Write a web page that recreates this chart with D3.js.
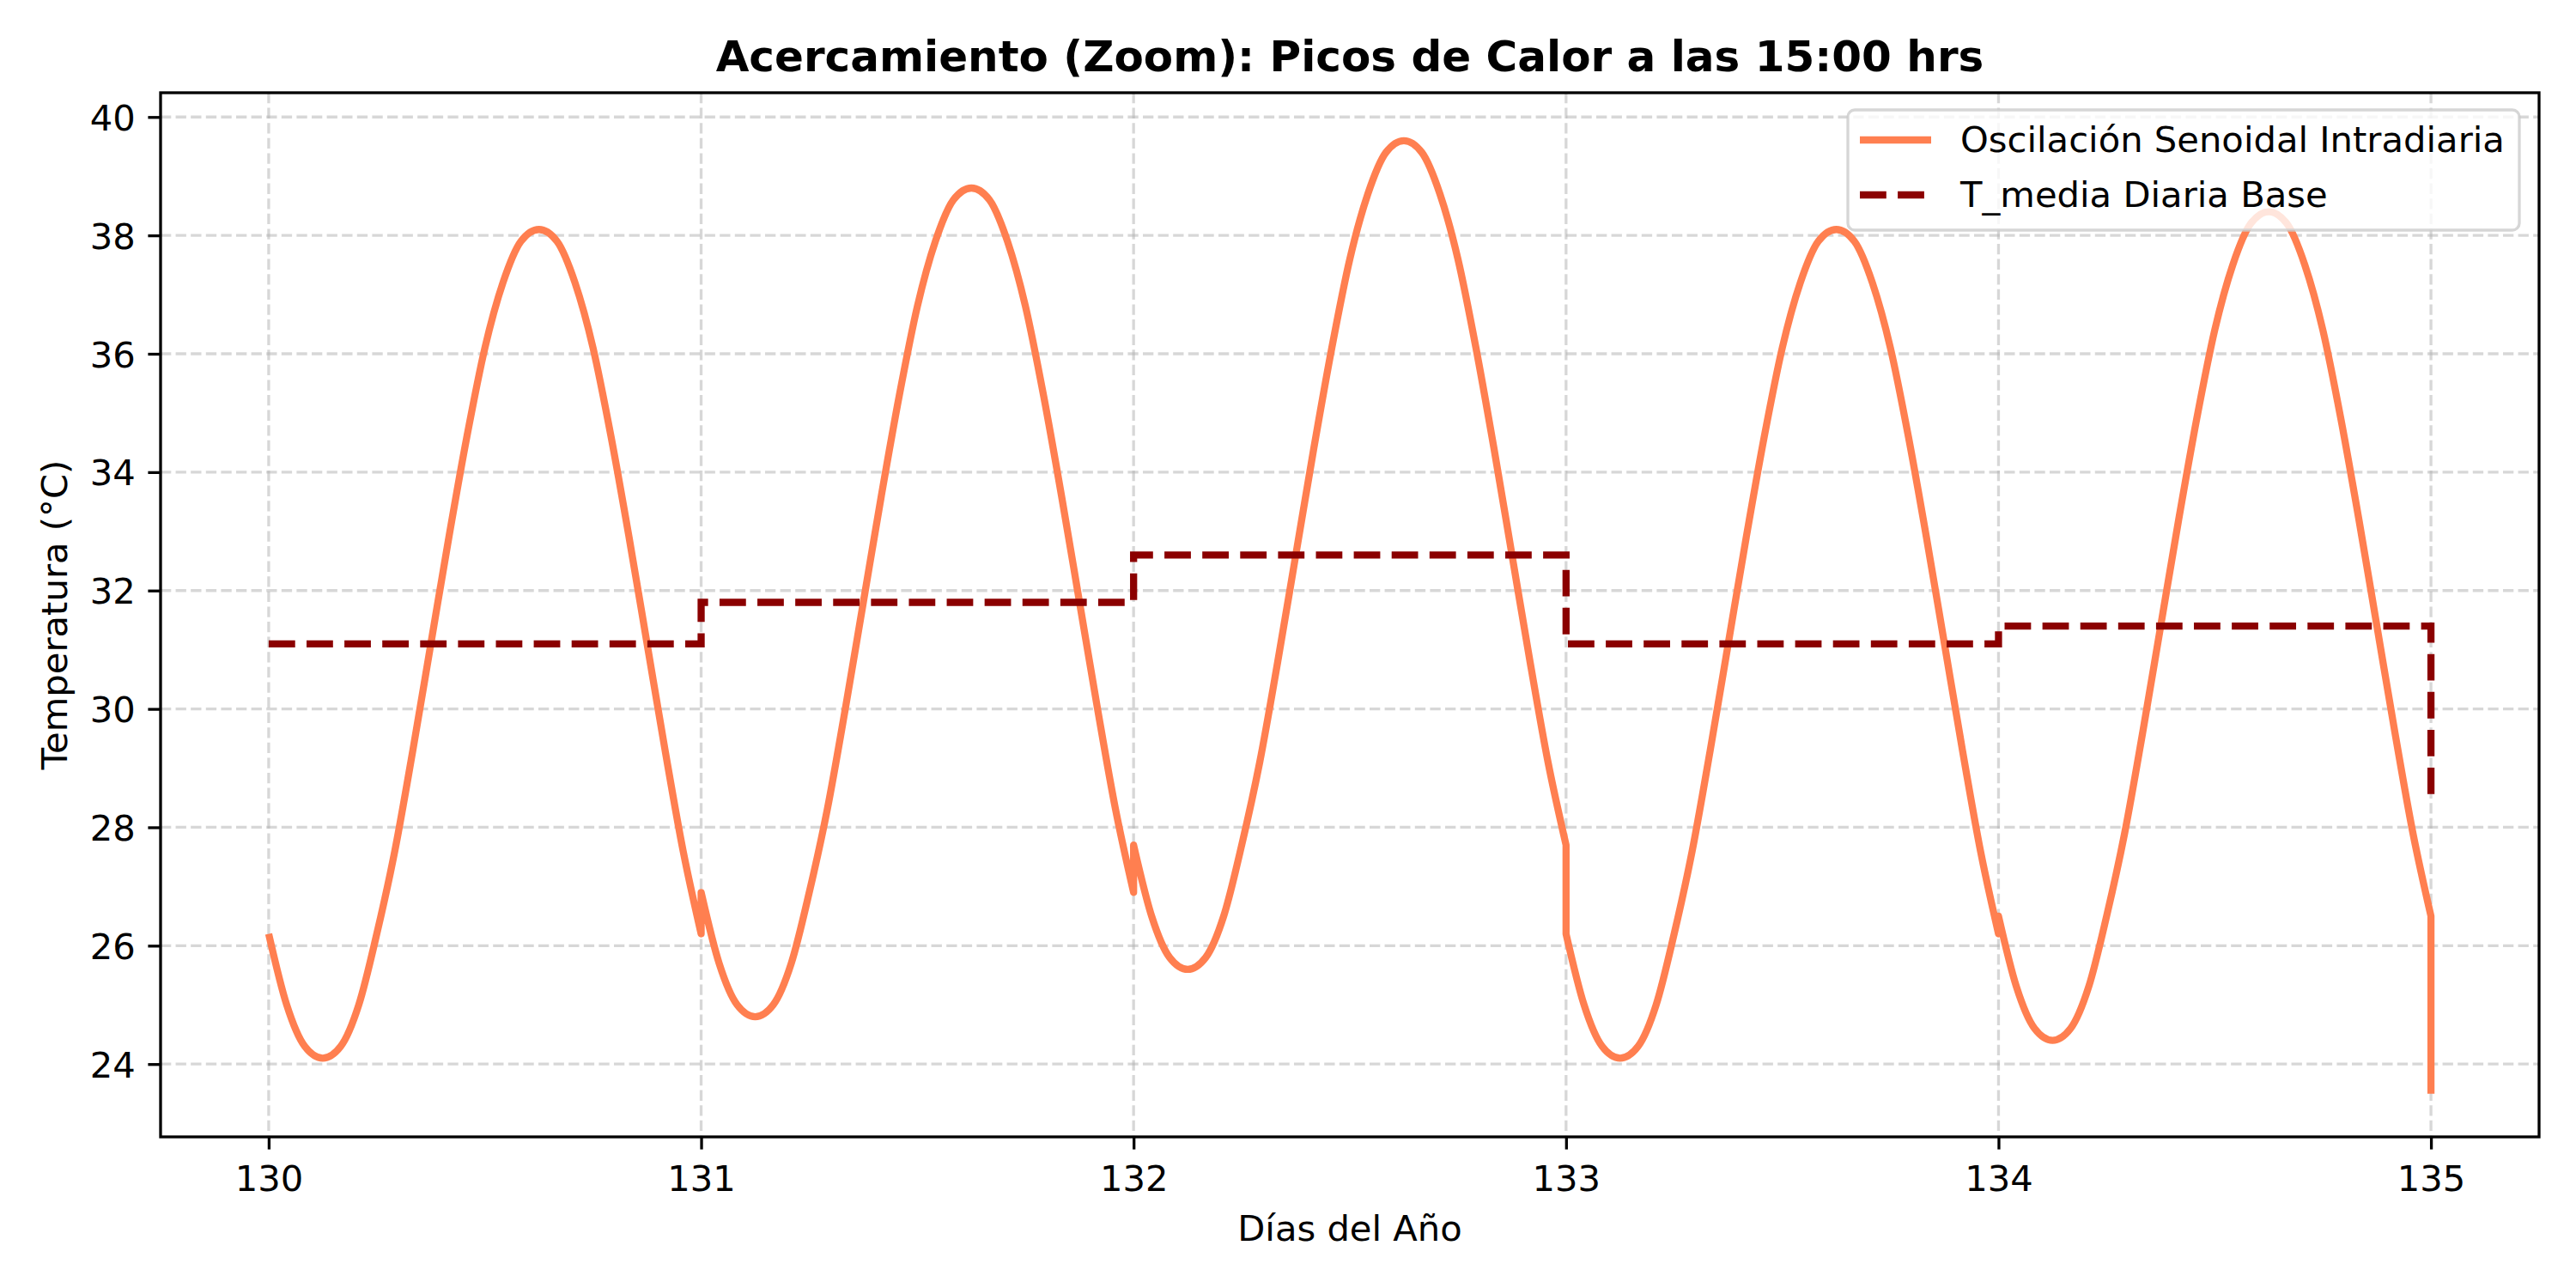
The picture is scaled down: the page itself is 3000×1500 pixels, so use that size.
<!DOCTYPE html>
<html lang="es">
<head>
<meta charset="UTF-8">
<title>Picos de Calor a las 15:00 hrs</title>
<style>
  body { margin: 0; padding: 0; background: #ffffff; }
  svg { display: block; font-family: "DejaVu Sans", sans-serif; }
</style>
<script src="https://d3js.org/d3.v7.min.js"></script>
</head>
<body>
<script>
// horas del día en que se leyó la oscilación (0 a 24)
const horas = [0, 1, 2, 3, 4, 5, 6, 7, 8, 9, 10, 11, 12, 13, 14, 15, 16, 17, 18, 19, 20, 21, 22, 23, 24];

// oscilación intradiaria leída por hora, un arreglo por día
const dia130 = [26.2, 25.0, 24.3, 24.1, 24.3, 25.0, 26.2, 27.6, 29.3, 31.1, 32.9, 34.6, 36.1, 37.2, 37.9, 38.1, 37.9, 37.2, 36.1, 34.6, 32.9, 31.1, 29.3, 27.6, 26.2];
const dia131 = [26.9, 25.7, 25.0, 24.8, 25.0, 25.7, 26.9, 28.3, 30.0, 31.8, 33.6, 35.3, 36.8, 37.9, 38.6, 38.8, 38.6, 37.9, 36.8, 35.3, 33.6, 31.8, 30.0, 28.3, 26.9];
const dia132 = [27.7, 26.5, 25.8, 25.6, 25.8, 26.5, 27.7, 29.1, 30.8, 32.6, 34.4, 36.1, 37.6, 38.7, 39.4, 39.6, 39.4, 38.7, 37.6, 36.1, 34.4, 32.6, 30.8, 29.1, 27.7];
const dia133 = [26.2, 25.0, 24.3, 24.1, 24.3, 25.0, 26.2, 27.6, 29.3, 31.1, 32.9, 34.6, 36.1, 37.2, 37.9, 38.1, 37.9, 37.2, 36.1, 34.6, 32.9, 31.1, 29.3, 27.6, 26.2];
const dia134 = [26.5, 25.3, 24.6, 24.4, 24.6, 25.3, 26.5, 27.9, 29.6, 31.4, 33.2, 34.9, 36.4, 37.5, 38.2, 38.4, 38.2, 37.5, 36.4, 34.9, 33.2, 31.4, 29.6, 27.9, 26.5];
const dia135 = [23.5];

const dias = [130, 131, 132, 133, 134, 135];
const oscilacion = [dia130, dia131, dia132, dia133, dia134, dia135];

// temperatura media diaria base
const mediaDiaria = [31.1, 31.8, 32.6, 31.1, 31.4, 28.5];

const ticksX = [130, 131, 132, 133, 134, 135];
const ticksY = [24, 26, 28, 30, 32, 34, 36, 38, 40];

// tamaño de la figura
const width = 3000;
const height = 1500;
const margin = { top: 108, right: 43, bottom: 176, left: 187 };

const colorOsc = "#ff7f50";
const colorMedia = "#8b0000";

const svg = d3.select("body").append("svg")
    .attr("width", width)
    .attr("height", height);

svg.append("rect").attr("width", width).attr("height", height).attr("fill", "#ffffff");

const x = d3.scaleLinear()
    .domain([129.75, 135.25])
    .range([margin.left, width - margin.right]);

const y = d3.scaleLinear()
    .domain([22.77, 40.41])
    .range([height - margin.bottom, margin.top]);

// rejilla
const grid = svg.append("g");
grid.selectAll("line.gx").data(ticksX).enter().append("line")
    .attr("x1", d => x(d)).attr("x2", d => x(d))
    .attr("y1", margin.top).attr("y2", height - margin.bottom)
    .attr("stroke", "#b0b0b0").attr("stroke-opacity", 0.5)
    .attr("stroke-width", 3.3).attr("stroke-dasharray", "12.3,5.3");
grid.selectAll("line.gy").data(ticksY).enter().append("line")
    .attr("x1", margin.left).attr("x2", width - margin.right)
    .attr("y1", d => y(d)).attr("y2", d => y(d))
    .attr("stroke", "#b0b0b0").attr("stroke-opacity", 0.5)
    .attr("stroke-width", 3.3).attr("stroke-dasharray", "12.3,5.3");

// curva de oscilación: un tramo suave por día, unidos con saltos rectos
const lineaDia = d3.line()
    .x(d => x(d[0]))
    .y(d => y(d[1]))
    .curve(d3.curveMonotoneX);

const tramos = oscilacion.map((vals, i) => {
    const pts = vals.map((v, j) => [dias[i] + horas[j] / 24, v]);
    if (pts.length === 1) return "L" + x(pts[0][0]) + "," + y(pts[0][1]);
    const d = lineaDia(pts);
    return i === 0 ? d : d.replace(/^M/, "L");
});

svg.append("path")
    .attr("d", tramos.join(""))
    .attr("fill", "none")
    .attr("stroke", colorOsc)
    .attr("stroke-width", 8.3)
    .attr("stroke-linejoin", "round");

// media diaria en escalón
const lineaMedia = d3.line()
    .x((d, i) => x(dias[i]))
    .y(d => y(d))
    .curve(d3.curveStepAfter);

svg.append("path")
    .attr("d", lineaMedia(mediaDiaria))
    .attr("fill", "none")
    .attr("stroke", colorMedia)
    .attr("stroke-width", 8.3)
    .attr("stroke-dasharray", "30.8,13.3");

// marco de los ejes
svg.append("rect")
    .attr("x", margin.left).attr("y", margin.top)
    .attr("width", width - margin.left - margin.right)
    .attr("height", height - margin.top - margin.bottom)
    .attr("fill", "none").attr("stroke", "#000").attr("stroke-width", 3.3);

// eje x
const ejeX = svg.append("g")
    .attr("transform", `translate(0,${height - margin.bottom})`)
    .call(d3.axisBottom(x).tickValues(ticksX).tickFormat(d3.format("d"))
        .tickSize(14.6).tickPadding(14.6));
ejeX.select(".domain").remove();
ejeX.selectAll(".tick line").attr("stroke-width", 3.3);
ejeX.selectAll(".tick text")
    .attr("font-size", 41.7).attr("font-family", "DejaVu Sans").attr("fill", "#000")
    .attr("dy", null).attr("y", 63);

// eje y
const ejeY = svg.append("g")
    .attr("transform", `translate(${margin.left},0)`)
    .call(d3.axisLeft(y).tickValues(ticksY).tickFormat(d3.format("d"))
        .tickSize(14.6).tickPadding(14.6));
ejeY.select(".domain").remove();
ejeY.selectAll(".tick line").attr("stroke-width", 3.3);
ejeY.selectAll(".tick text")
    .attr("font-size", 41.7).attr("font-family", "DejaVu Sans").attr("fill", "#000")
    .attr("dy", "0.36em");

// títulos
svg.append("text")
    .attr("x", (margin.left + width - margin.right) / 2)
    .attr("y", 83)
    .attr("text-anchor", "middle")
    .attr("font-size", 50)
    .attr("font-weight", "bold")
    .text("Acercamiento (Zoom): Picos de Calor a las 15:00 hrs");

svg.append("text")
    .attr("x", (margin.left + width - margin.right) / 2)
    .attr("y", 1445)
    .attr("text-anchor", "middle")
    .attr("font-size", 41.7)
    .text("Días del Año");

svg.append("text")
    .attr("transform", `translate(78,${(margin.top + height - margin.bottom) / 2}) rotate(-90)`)
    .attr("text-anchor", "middle")
    .attr("font-size", 41.7)
    .text("Temperatura (°C)");

// leyenda
const leyenda = svg.append("g").attr("transform", "translate(2152,128)");
leyenda.append("rect")
    .attr("width", 782).attr("height", 140)
    .attr("rx", 8).attr("ry", 8)
    .attr("fill", "#ffffff").attr("fill-opacity", 0.8)
    .attr("stroke", "#cccccc").attr("stroke-opacity", 0.8).attr("stroke-width", 3.3);

const entradas = [
    { nombre: "Oscilación Senoidal Intradiaria", color: colorOsc, dash: null, y: 35 },
    { nombre: "T_media Diaria Base", color: colorMedia, dash: "30.8,13.3", y: 99 }
];
entradas.forEach(e => {
    leyenda.append("line")
        .attr("x1", 14).attr("x2", 97)
        .attr("y1", e.y).attr("y2", e.y)
        .attr("stroke", e.color).attr("stroke-width", 8.3)
        .attr("stroke-dasharray", e.dash);
    leyenda.append("text")
        .attr("x", 131).attr("y", e.y + 14)
        .attr("font-size", 41.7)
        .text(e.nombre);
});
</script>
</body>
</html>
